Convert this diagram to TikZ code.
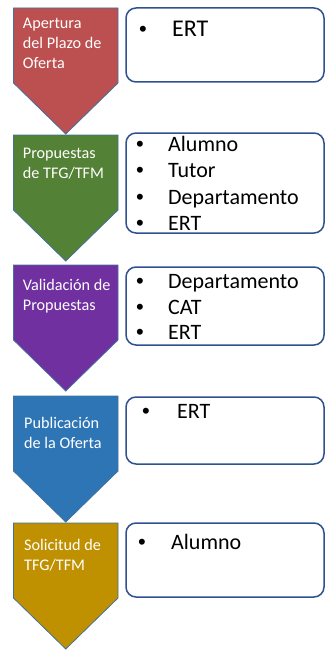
\documentclass[tikz,border=0pt]{standalone}
\usepackage{fontspec}
\setmainfont{Carlito}
\newfontfamily\bulfont{Liberation Sans}
\definecolor{cred}{HTML}{BC4F4F}
\definecolor{cgreen}{HTML}{538135}
\definecolor{cpurple}{HTML}{7030A0}
\definecolor{cblue}{HTML}{2E75B6}
\definecolor{cgold}{HTML}{BF9000}
\definecolor{chevline}{HTML}{41719C}
\definecolor{boxline}{HTML}{2F528F}
\begin{document}
\begin{tikzpicture}[x=1pt,y=-1pt,
  chev/.style={draw=chevline, line width=0.8pt},
  infobox/.style={draw=boxline, line width=1.5pt, rounded corners=10pt, fill=white},
  ctext/.style={anchor=base west, inner sep=0pt, text=white, font=\fontsize{16.2}{20}\selectfont},
  btext/.style={anchor=base west, inner sep=0pt, text=black, font=\fontsize{22}{26}\selectfont},
  bigtext/.style={btext, font=\fontsize{24}{28}\selectfont},
  bul/.style={anchor=base west, inner sep=0pt, text=black, font=\bulfont\fontsize{22}{26}\selectfont},
]
\useasboundingbox (0,0) rectangle (326,650);
% chevrons
\foreach \t/\c in {8/cred,135/cgreen,265/cpurple,396/cblue,523/cgold}
  \draw[chev, fill=\c] (13.5,\t) -- (118,\t) -- (118,\t+75) -- (65.75,\t+126) -- (13.5,\t+75) -- cycle;
% chevron labels
\node[ctext] (c1a) at (22.7,29) {Apertura};
\node[ctext] (c1b) at (22.7,49) {del Plazo de};
\node[ctext] (c1c) at (22.7,69) {Oferta};
\node[ctext] (c2a) at (22.7,158) {Propuestas};
\node[ctext] (c2b) at (22.7,178) {de TFG/TFM};
\node[ctext] (c3a) at (22.7,290) {Validación de};
\node[ctext] (c3b) at (22.7,310) {Propuestas};
\node[ctext] (c4a) at (24,428) {Publicación};
\node[ctext] (c4b) at (24,448) {de la Oferta};
\node[ctext] (c5a) at (24,550) {Solicitud de};
\node[ctext] (c5b) at (24,570) {TFG/TFM};
% boxes
\draw[infobox] (126,8) rectangle (324,82);
\draw[infobox] (126,133) rectangle (324,233);
\draw[infobox] (126,267) rectangle (324,345);
\draw[infobox] (126,397) rectangle (324,464);
\draw[infobox] (126,523) rectangle (324,597);
% box 1
\node[bul] (b1d1) at (139,37) {•};
\node[bigtext] (b1t1) at (172,37) {ERT};
% box 2
\node[bul] (b2d1) at (136,151) {•};
\node[btext] (b2t1) at (168,151) {Alumno};
\node[bul] (b2d2) at (136,177.5) {•};
\node[btext] (b2t2) at (168,177.5) {Tutor};
\node[bul] (b2d3) at (136,204) {•};
\node[btext] (b2t3) at (168,204) {Departamento};
\node[bul] (b2d4) at (136,230) {•};
\node[btext] (b2t4) at (168,230) {ERT};
% box 3
\node[bul] (b3d1) at (136,288) {•};
\node[btext] (b3t1) at (168,288) {Departamento};
\node[bul] (b3d2) at (136,314) {•};
\node[btext] (b3t2) at (168,314) {CAT};
\node[bul] (b3d3) at (136,339) {•};
\node[btext] (b3t3) at (168,339) {ERT};
% box 4
\node[bul] (b4d1) at (142,418) {•};
\node[btext] (b4t1) at (177,418) {ERT};
% box 5
\node[bul] (b5d1) at (138,549) {•};
\node[btext] (b5t1) at (171,549) {Alumno};
\end{tikzpicture}
\end{document}
